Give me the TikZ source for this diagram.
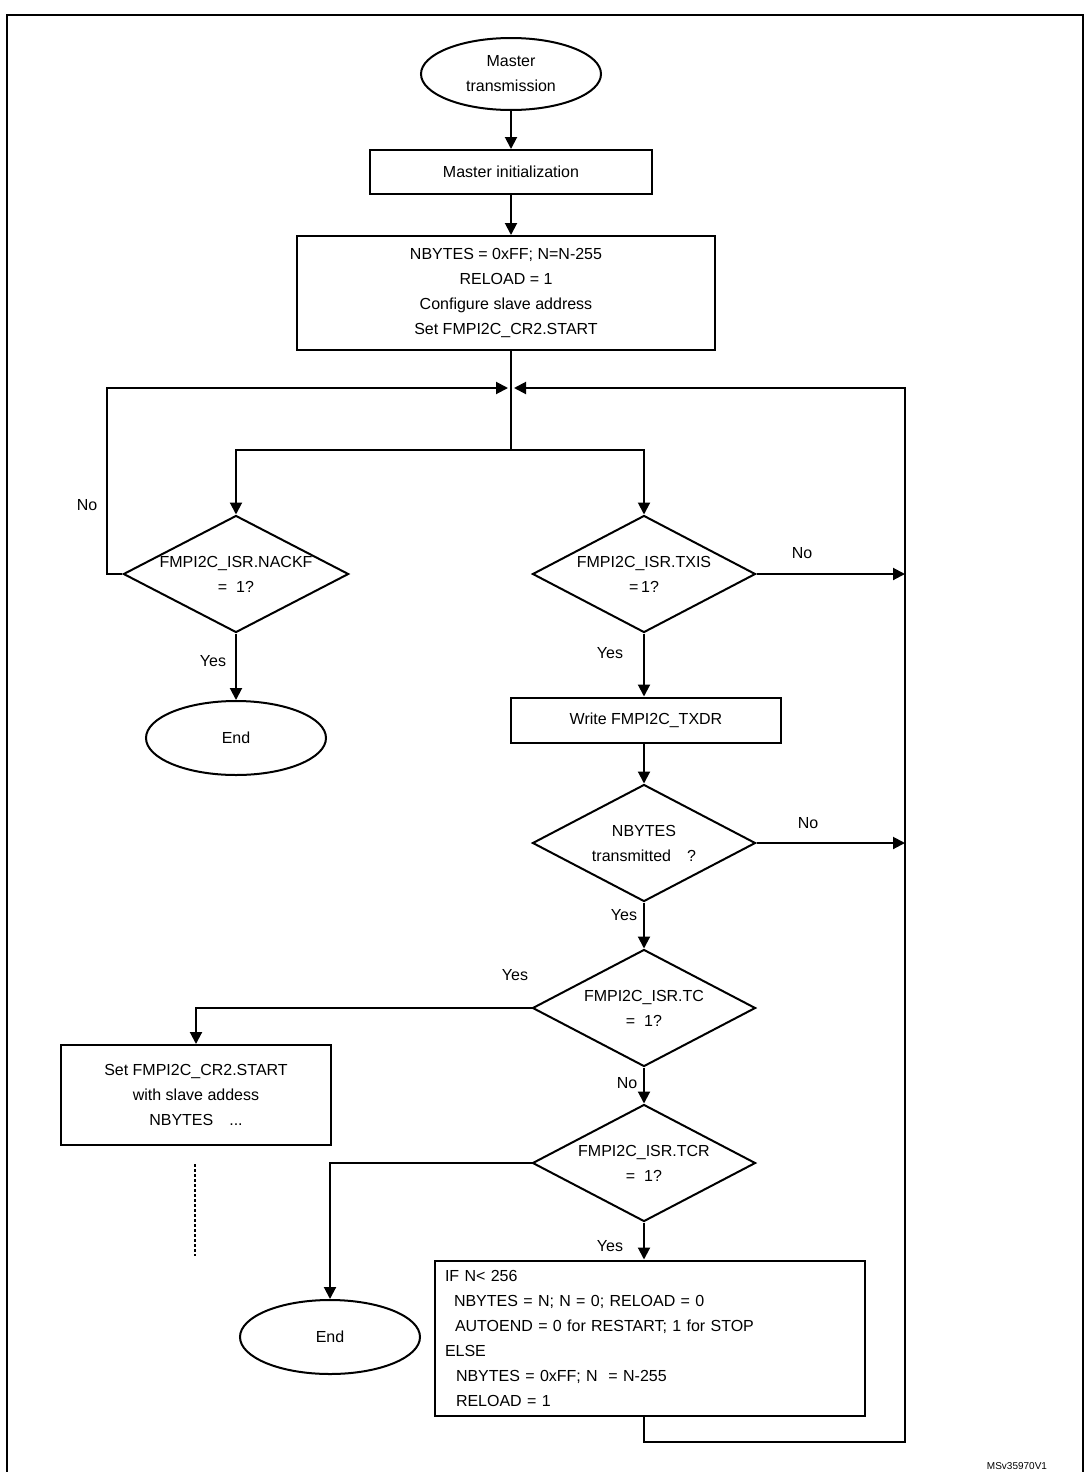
\documentclass[tikz,border=0pt]{standalone}
\usepackage{fontspec}
\setmainfont{Liberation Sans}
\usetikzlibrary{calc, arrows.meta, shapes.geometric}
\tikzset{>={Triangle[length=6pt,width=6pt]},
  every node/.style={font=\fontsize{8}{12.5}\selectfont},
  box/.style={draw, line width=1pt, rectangle, inner sep=0pt, align=center},
  term/.style={draw, line width=1pt, ellipse, inner sep=0pt, minimum width=90pt, minimum height=36pt, align=center},
  test/.style={draw, line width=1pt, diamond, aspect=2, inner sep=0pt, minimum width=111.5pt, minimum height=58.5pt, align=center},
  flow/.style={line width=1pt}}

\begin{document}
\begin{tikzpicture}[x=0.5pt,y=-0.5pt]
\useasboundingbox (0,0) rectangle (1087,1472);
% frame
\draw[line width=1.2pt] (7,1472) -- (7,15) -- (1083,15) -- (1083,1472);

% main column
\node[term] (start) at (511,74) {Master\\transmission};
\node[box, minimum width=141pt, minimum height=22pt] (init) at (511,172) {Master initialization};
\node[box, minimum width=209pt, minimum height=57pt] (setup) at (506,293) {NBYTES = 0xFF; N=N-255\\RELOAD = 1\\Configure slave address\\Set FMPI2C\_CR2.START};
\coordinate (join) at (511,388);
\coordinate (split) at (511,450);
\node[test] (nack) at (236,574) {FMPI2C\_ISR.NACKF\\= \ 1?};
\node[term, minimum height=37pt] (end1) at (236,738) {End};
\node[test] (txis) at (644,574) {FMPI2C\_ISR.TXIS\\=\,1?};
\node[box, minimum width=135pt, minimum height=22.5pt] (write) at (646,720) {Write FMPI2C\_TXDR};
\node[test] (nbt) at (644,843) {NBYTES\\transmitted\quad ?};
\node[test] (tc) at (644,1008) {FMPI2C\_ISR.TC\\= \ 1?};
\node[box, minimum width=135pt, minimum height=50pt] (restart) at (196,1095) {Set FMPI2C\_CR2.START\\with slave addess\\NBYTES\quad ...};
\node[test] (tcr) at (644,1163) {FMPI2C\_ISR.TCR\\= \ 1?};
\node[term, minimum height=37pt] (end2) at (330,1337) {End};
\node[box, minimum width=215pt, minimum height=77.5pt, text width=205pt, align=left] (reload) at (650,1338) {IF N< 256\\
  \hspace*{4.5pt}NBYTES = N; N = 0; RELOAD = 0\\
  \hspace*{5pt}AUTOEND = 0 for RESTART; 1 for STOP\\
  ELSE\\
  \hspace*{5.5pt}NBYTES = 0xFF; N \ = N-255\\
  \hspace*{5.5pt}RELOAD = 1};
\coordinate (loopL) at (107,574);
\coordinate (railT) at (905,388);
\coordinate (railB) at (905,1442);

% connectors
\draw[flow,->] (start) -- (init);
\draw[flow,->] (init) -- (init |- setup.north);
\draw[flow] (split |- setup.south) -- (split);
\draw[flow,->] (split) -| (nack.north);
\draw[flow,->] (split) -| (txis.north);
\draw[flow,->,shorten >=1.5pt] (nack.west) -- (loopL) |- (join);
\draw[flow,->] (nack.south) -- (end1.north);
\draw[flow,->] (txis.east) -- (txis.east -| railT);
\draw[flow,->] (txis.south) -- (txis.south |- write.north);
\draw[flow,->] (write.south -| nbt.north) -- (nbt.north);
\draw[flow,->] (nbt.east) -- (nbt.east -| railT);
\draw[flow,->] (nbt.south) -- (tc.north);
\draw[flow,->] (tc.west) -| (restart.north);
\draw[flow,->] (tc.south) -- (tcr.north);
\draw[flow,->] (tcr.west) -| (end2.north);
\draw[flow,->] (tcr.south) -- (tcr.south |- reload.north);
\draw[flow,->,shorten >=1.5pt] (reload.south -| tcr.south) |- (railB) -- (railT) -- (join);
\draw[line width=1pt, dash pattern=on 1.5pt off 1pt] (195,1164) -- (195,1256);

% labels
\node (noNack) at (87,505) {No};
\node (yesNack) at (213,661) {Yes};
\node (noTxis) at (802,553) {No};
\node (yesTxis) at (610,653) {Yes};
\node (noNbt) at (808,823) {No};
\node (yesNbt) at (624,915) {Yes};
\node (yesTc) at (515,975) {Yes};
\node (noTc) at (627,1083) {No};
\node (yesTcr) at (610,1246) {Yes};
\node[font=\fontsize{5}{6}\selectfont] (figId) at (1017,1466) {MSv35970V1};
\end{tikzpicture}
\end{document}
